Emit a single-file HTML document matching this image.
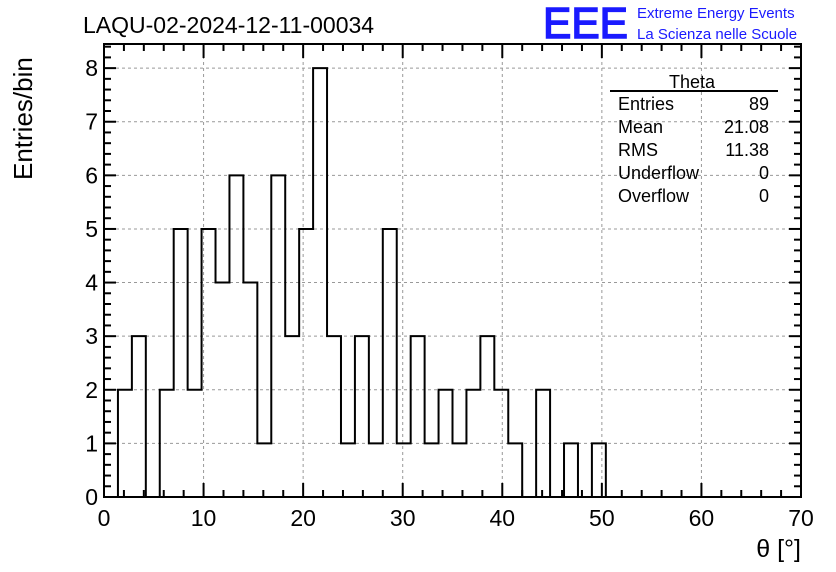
<!DOCTYPE html>
<html><head><meta charset="utf-8"><style>
body{margin:0;background:#fff;}
svg{display:block;font-family:"Liberation Sans",sans-serif;}
</style></head><body>
<svg id="c" width="836" height="572" xmlns="http://www.w3.org/2000/svg">
<rect width="836" height="572" fill="#fff"/>
<text x="83" y="33" font-size="23" fill="#000">LAQU-02-2024-12-11-00034</text>
<text x="543" y="38" font-size="44" fill="#1a1aff" stroke="#1a1aff" stroke-width="1.5" textLength="85" lengthAdjust="spacingAndGlyphs">EEE</text>
<text x="637" y="18" font-size="15" fill="#1a1aff">Extreme Energy Events</text>
<text x="637" y="39" font-size="15" fill="#1a1aff">La Scienza nelle Scuole</text>
<g id="grid"></g>
<g id="bars"></g>
<g id="axes"></g>
<g font-size="18">
<text x="692" y="88" text-anchor="middle">Theta</text>
<line x1="610" y1="91" x2="778" y2="91" stroke="#000" stroke-width="2"/>
<text x="618" y="110">Entries</text><text x="769" y="110" text-anchor="end">89</text>
<text x="618" y="133">Mean</text><text x="769" y="133" text-anchor="end">21.08</text>
<text x="618" y="156">RMS</text><text x="769" y="156" text-anchor="end">11.38</text>
<text x="618" y="179">Underflow</text><text x="769" y="179" text-anchor="end">0</text>
<text x="618" y="202">Overflow</text><text x="769" y="202" text-anchor="end">0</text>
</g>
<text x="801" y="557" font-size="25" text-anchor="end">θ [°]</text>
<text transform="translate(32,180) rotate(-90)" font-size="26">Entries/bin</text>
</svg>
<script>
const counts=[0,2,3,0,2,5,2,5,4,6,4,1,6,3,5,8,3,1,3,1,5,1,3,1,2,1,2,3,2,1,0,2,0,1,0,1,0,0,0,0,0,0,0,0,0,0,0,0,0,0];
const xTicks=[0,10,20,30,40,50,60,70];
const yTicks=[0,1,2,3,4,5,6,7,8];
const binWidth=1.4;
const L=104,R=801,T=44,B=497;
const X=v=>L+(v-0)/70*(R-L);
const Y=v=>B-v/8.45*(B-T);
const ns="http://www.w3.org/2000/svg";
function mk(tag,attrs,parent){const e=document.createElementNS(ns,tag);for(const k in attrs)e.setAttribute(k,attrs[k]);parent.appendChild(e);return e;}
const grid=document.getElementById('grid'),axes=document.getElementById('axes'),bars=document.getElementById('bars');
xTicks.forEach(t=>{if(t>0&&t<70){const l=mk('line',{x1:X(t),x2:X(t),y1:T,y2:B,stroke:'#999','stroke-dasharray':'3,3'},grid);

}});
yTicks.forEach(t=>{if(t>0){const l=mk('line',{x1:L,x2:R,y1:Y(t),y2:Y(t),stroke:'#999','stroke-dasharray':'3,3'},grid);

}});
let d='M'+X(0)+','+Y(0);
counts.forEach((c,i)=>{d+=' L'+X(i*binWidth)+','+Y(c)+' L'+X((i+1)*binWidth)+','+Y(c);});
d+=' L'+X(counts.length*binWidth)+','+Y(0);
const p=mk('path',{d:d,fill:'none',stroke:'#000','stroke-width':2},bars);


mk('rect',{x:L,y:T,width:R-L,height:B-T,fill:'none',stroke:'#000','stroke-width':2},axes);
for(let v=0;v<=70;v+=2){const big=v%10===0;const h=big?14:7;
mk('line',{x1:X(v),x2:X(v),y1:B,y2:B-h,stroke:'#000','stroke-width':2},axes);
mk('line',{x1:X(v),x2:X(v),y1:T,y2:T+h,stroke:'#000','stroke-width':2},axes);}
for(let i=0;i<=42;i++){const v=i*0.2;const big=i%5===0;const h=big?12:7;
mk('line',{x1:L,x2:L+h,y1:Y(v),y2:Y(v),stroke:'#000','stroke-width':2},axes);
mk('line',{x1:R,x2:R-h,y1:Y(v),y2:Y(v),stroke:'#000','stroke-width':2},axes);}
xTicks.forEach(t=>{const e=mk('text',{x:X(t),y:B+29,'font-size':23,'text-anchor':'middle'},axes);e.textContent=t;

});
yTicks.forEach(t=>{const e=mk('text',{x:L-6,y:Y(t)+8,'font-size':23,'text-anchor':'end'},axes);e.textContent=t;

});
</script>
</body></html>
